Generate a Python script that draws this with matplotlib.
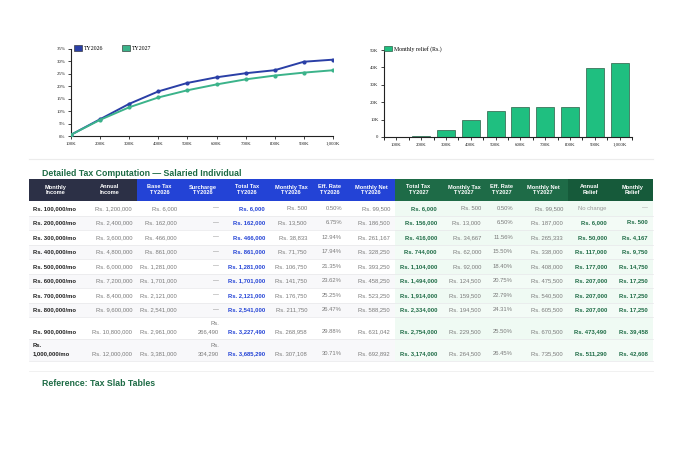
import matplotlib
matplotlib.use("Agg")
import matplotlib.pyplot as plt
from matplotlib.patches import Rectangle

# ---- data ----
income_labels = ["100K", "200K", "300K", "400K", "500K", "600K", "700K", "800K", "900K", "1,000K"]
monthly_income = [100000, 200000, 300000, 400000, 500000, 600000, 700000, 800000, 900000, 1000000]
annual_income = [1200000, 2400000, 3600000, 4800000, 6000000, 7200000, 8400000, 9600000, 10800000, 12000000]
base_tax_2026 = [6000, 162000, 466000, 861000, 1281000, 1701000, 2121000, 2541000, 2961000, 3381000]
surcharge_2026 = [0, 0, 0, 0, 0, 0, 0, 0, 266490, 304290]
total_tax_2026 = [6000, 162000, 466000, 861000, 1281000, 1701000, 2121000, 2541000, 3227490, 3685290]
monthly_tax_2026 = [500, 13500, 38833, 71750, 106750, 141750, 176750, 211750, 268958, 307108]
eff_rate_2026 = [0.50, 6.75, 12.94, 17.94, 21.35, 23.62, 25.25, 26.47, 29.88, 30.71]
monthly_net_2026 = [99500, 186500, 261167, 328250, 393250, 458250, 523250, 588250, 631042, 692892]
total_tax_2027 = [6000, 156000, 416000, 744000, 1104000, 1494000, 1914000, 2334000, 2754000, 3174000]
monthly_tax_2027 = [500, 13000, 34667, 62000, 92000, 124500, 159500, 194500, 229500, 264500]
eff_rate_2027 = [0.50, 6.50, 11.56, 15.50, 18.40, 20.75, 22.79, 24.31, 25.50, 26.45]
monthly_net_2027 = [99500, 187000, 265333, 338000, 408000, 475500, 540500, 605500, 670500, 735500]
annual_relief = [0, 6000, 50000, 117000, 177000, 207000, 207000, 207000, 473490, 511290]
monthly_relief = [0, 500, 4167, 9750, 14750, 17250, 17250, 17250, 39458, 42608]

headers = ["Monthly\nIncome", "Annual\nIncome", "Base Tax\nTY2026", "Surcharge\nTY2026",
           "Total Tax\nTY2026", "Monthly Tax\nTY2026", "Eff. Rate\nTY2026", "Monthly Net\nTY2026",
           "Total Tax\nTY2027", "Monthly Tax\nTY2027", "Eff. Rate\nTY2027", "Monthly Net\nTY2027",
           "Annual\nRelief", "Monthly\nRelief"]

BLUE = "#2a3fa6"
GREEN = "#3bb38a"
BAR = "#1fbf80"
DARK_GREEN = "#1d6b45"
GRAY = "#7a7a7a"
SERIF = "Liberation Serif"
SANS = "Liberation Sans"

W, H = 680, 462
fig = plt.figure(figsize=(W / 100, H / 100), dpi=100)
fig.patch.set_facecolor("white")


def fig_rect(x0, y0, x1, y1):
    return [x0 / W, 1 - y1 / H, (x1 - x0) / W, (y1 - y0) / H]


def style_axis(ax):
    for s in ["top", "right"]:
        ax.spines[s].set_visible(False)
    for s in ["left", "bottom"]:
        ax.spines[s].set_linewidth(0.8)
        ax.spines[s].set_color("#222222")
    ax.tick_params(length=2.5, width=0.6, pad=1.5, labelsize=3.5, colors="#222222")
    for lab in ax.get_xticklabels() + ax.get_yticklabels():
        lab.set_family(SERIF)


# ---- line chart: effective rate ----
ax1 = fig.add_axes(fig_rect(71, 49, 333, 136))
xs = list(range(len(income_labels)))
ax1.plot(xs, eff_rate_2026, color=BLUE, lw=1.4, marker="o", ms=2, zorder=3)
ax1.plot(xs, eff_rate_2027, color=GREEN, lw=1.4, marker="o", ms=2, zorder=3)
ax1.set_xlim(0, len(xs) - 1)
ax1.set_ylim(0, 35)
ax1.set_xticks(xs)
ax1.set_xticklabels(income_labels)
ax1.set_yticks(range(0, 36, 5))
ax1.set_yticklabels([f"{v}%" for v in range(0, 36, 5)])
style_axis(ax1)
ax1.legend(handles=[Rectangle((0, 0), 1, 1, fc=BLUE, ec="#222222", lw=0.4, label="TY2026"),
                    Rectangle((0, 0), 1, 1, fc=GREEN, ec="#222222", lw=0.4, label="TY2027")],
           loc="lower left", bbox_to_anchor=(0.01, 0.98), ncol=2, frameon=False,
           prop={"family": SERIF, "size": 4.2}, handlelength=1.4, handleheight=1.1,
           handletextpad=0.3, columnspacing=3.2, borderaxespad=0, borderpad=0)

# ---- bar chart: monthly relief ----
ax2 = fig.add_axes(fig_rect(384, 50, 632, 137))
ax2.bar(xs, monthly_relief, width=0.73, color=BAR, edgecolor="#2d5e46", linewidth=0.5,
        label="Monthly relief (Rs.)")
ax2.set_xlim(-0.5, len(xs) - 0.5)
ax2.set_ylim(0, 50000)
ax2.set_xticks(xs)
ax2.set_xticklabels(income_labels)
ax2.set_xticks([i - 0.5 for i in range(len(xs) + 1)], minor=True)
ax2.tick_params(axis="x", which="major", length=0)
ax2.tick_params(axis="x", which="minor", length=2.5, width=0.6)
ax2.set_yticks(range(0, 50001, 10000))
ax2.set_yticklabels(["0"] + [f"{v // 1000}K" for v in range(10000, 50001, 10000)])
style_axis(ax2)
ax2.legend(loc="lower left", bbox_to_anchor=(0.0, 0.98), frameon=False,
           prop={"family": SERIF, "size": 4.2}, handlelength=1.4, handleheight=1.1,
           handletextpad=0.3, borderaxespad=0, borderpad=0)

# ---- table (drawn on a pixel-space overlay) ----
tab = fig.add_axes([0, 0, 1, 1], zorder=-1)
tab.set_xlim(0, W)
tab.set_ylim(H, 0)
tab.axis("off")

tab.plot([29, 653], [159, 159], color="#ececec", lw=0.8)
tab.text(42, 173, "Detailed Tax Computation \u2014 Salaried Individual", family=SANS,
         fontsize=6.3, fontweight="bold", color=DARK_GREEN, va="center")
tab.text(42, 384, "Reference: Tax Slab Tables", family=SANS,
         fontsize=6.3, fontweight="bold", color=DARK_GREEN, va="center")

col_edges = [29, 83, 137, 182, 224, 270, 312, 347, 395, 442, 486, 518, 568, 612, 653]
head_colors = ["#2c3046"] * 2 + ["#2343d6"] * 6 + ["#1e6b47"] * 4 + ["#165a3a"] * 2
head_top, head_bot = 179, 201
for i, h in enumerate(headers):
    x0, x1 = col_edges[i], col_edges[i + 1]
    tab.add_patch(Rectangle((x0, head_top), x1 - x0, head_bot - head_top, fc=head_colors[i], ec="none"))
    tab.text((x0 + x1) / 2, (head_top + head_bot) / 2, h, ha="center", va="center",
             family=SANS, fontsize=4.1, fontweight="bold", color="white", linespacing=1.25)


def rs(v):
    return f"Rs. {v:,}"


row_heights = [14.5] * 8 + [22, 22]
y = head_bot
for r in range(len(monthly_income)):
    h = row_heights[r]
    top, bot = y, y + h
    left_bg = "#ffffff" if r % 2 == 0 else "#f8f8fa"
    right_bg = "#effaf3" if r % 2 == 0 else "#f3fbf6"
    tab.add_patch(Rectangle((col_edges[0], top), col_edges[8] - col_edges[0], h, fc=left_bg, ec="none"))
    tab.add_patch(Rectangle((col_edges[8], top), col_edges[-1] - col_edges[8], h, fc=right_bg, ec="none"))
    tab.plot([col_edges[0], col_edges[-1]], [bot, bot], color="#e7e7ea", lw=0.5)

    cells = [
        (f"Rs. {monthly_income[r]:,}/mo", "#222222", "bold"),
        (rs(annual_income[r]), GRAY, "normal"),
        (rs(base_tax_2026[r]), GRAY, "normal"),
        (rs(surcharge_2026[r]) if surcharge_2026[r] else "\u2014", GRAY, "normal"),
        (rs(total_tax_2026[r]), "#2343d6", "bold"),
        (rs(monthly_tax_2026[r]), GRAY, "normal"),
        (f"{eff_rate_2026[r]:.2f}%", GRAY, "normal"),
        (rs(monthly_net_2026[r]), GRAY, "normal"),
        (rs(total_tax_2027[r]), DARK_GREEN, "bold"),
        (rs(monthly_tax_2027[r]), GRAY, "normal"),
        (f"{eff_rate_2027[r]:.2f}%", GRAY, "normal"),
        (rs(monthly_net_2027[r]), GRAY, "normal"),
        (rs(annual_relief[r]) if annual_relief[r] else "No change",
         DARK_GREEN if annual_relief[r] else "#9a9a9a", "bold" if annual_relief[r] else "normal"),
        (rs(monthly_relief[r]) if monthly_relief[r] else "\u2014",
         DARK_GREEN if monthly_relief[r] else "#9a9a9a", "bold" if monthly_relief[r] else "normal"),
    ]
    max_chars = {0: 15, 3: 10}
    for c, (txt, color, weight) in enumerate(cells):
        x0, x1 = col_edges[c], col_edges[c + 1]
        lines = [txt]
        if c in max_chars and len(txt) > max_chars[c]:
            lines = txt.split(" ", 1)
        if c == 0:
            xt, ha = x0 + 4, "left"
        elif c == 12 and not annual_relief[r]:
            xt, ha = (x0 + x1) / 2 + 2, "center"
        else:
            xt, ha = x1 - 5, "right"
        base = bot - 7.2
        for k, line in enumerate(reversed(lines)):
            tab.text(xt, base - 8 * k, line, ha=ha, va="center", family=SANS,
                     fontsize=4.2, fontweight=weight, color=color)
    y = bot

tab.plot([29, 653], [371, 371], color="#efefef", lw=0.6)

fig.savefig("out.png", dpi=100, facecolor="white")
